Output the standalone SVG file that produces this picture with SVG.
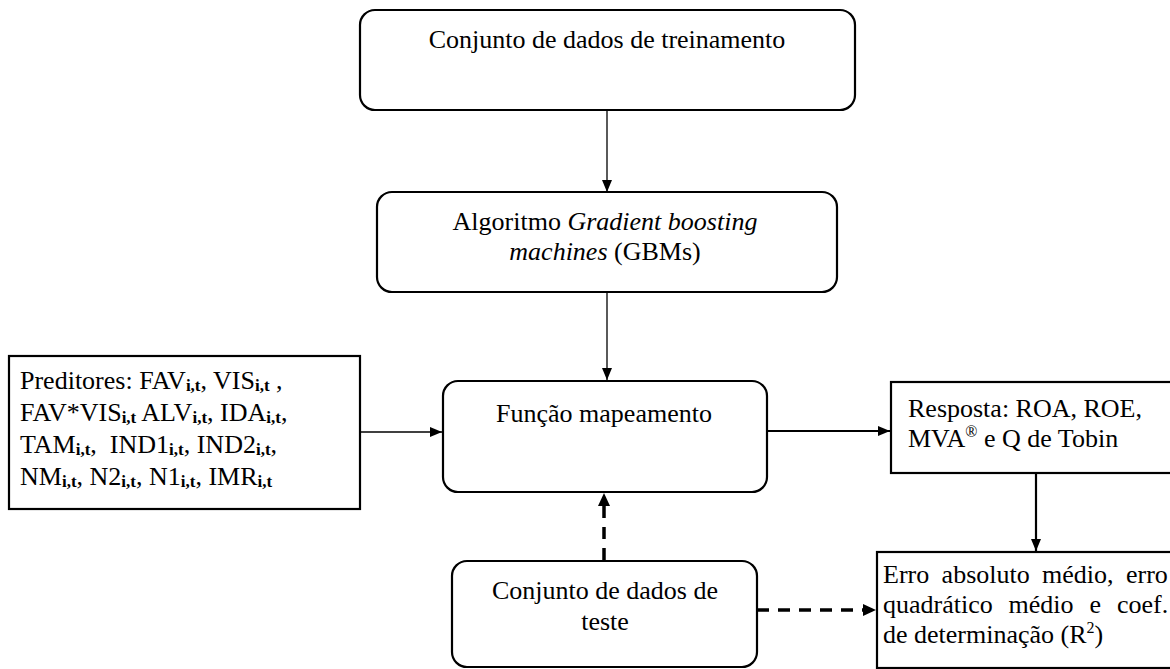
<svg xmlns="http://www.w3.org/2000/svg" width="1170" height="669" viewBox="0 0 1170 669">
<defs>
<style>
.box{fill:#fff;stroke:#000;stroke-width:2.2}
.t{font-family:"Liberation Serif","Times New Roman",serif;font-size:26px;fill:#000;white-space:pre}
.c{text-anchor:middle}
.s{font-size:17px;font-weight:bold}
.thin{stroke:#000;stroke-width:1.3;fill:none}
.thick{stroke:#000;stroke-width:2.2;fill:none}
.dash{stroke:#000;stroke-width:3.5;fill:none;stroke-dasharray:12 9}
</style>
<marker id="ah" viewBox="0 0 12 10" refX="12" refY="5" markerWidth="12" markerHeight="10" markerUnits="userSpaceOnUse" orient="auto">
<path d="M0,0 L12,5 L0,10 z" fill="#000"/>
</marker>
</defs>
<rect width="1170" height="669" fill="#fff"/>
<g id="connectors">
<line class="thin" x1="607" y1="110" x2="607" y2="192" marker-end="url(#ah)"/>
<line class="thin" x1="607" y1="292" x2="607" y2="380" marker-end="url(#ah)"/>
<line class="thin" x1="360" y1="432" x2="442" y2="432" marker-end="url(#ah)"/>
<line class="thick" x1="767" y1="431" x2="890" y2="431" marker-end="url(#ah)"/>
<line class="thick" x1="1036" y1="473" x2="1036" y2="551" marker-end="url(#ah)"/>
<line class="dash" x1="604" y1="560" x2="604" y2="505"/>
<path d="M598,506 L610,506 L604,493 z" fill="#000"/>
<line class="dash" x1="757" y1="610" x2="863" y2="610"/>
<path d="M863,604 L863,616 L876,610 z" fill="#000"/>
</g>
<g id="n-treino">
<rect class="box" x="360" y="10" width="495" height="100" rx="15"/>
<text class="t c" x="607" y="48">Conjunto de dados de treinamento</text>
</g>
<g id="n-gbm">
<rect class="box" x="377" y="192" width="460" height="100" rx="15"/>
<text class="t c" x="605" y="230">Algoritmo <tspan font-style="italic">Gradient boosting</tspan></text>
<text class="t c" x="605" y="260"><tspan font-style="italic">machines</tspan> (GBMs)</text>
</g>
<g id="n-funcao">
<rect class="box" x="443" y="381" width="324" height="111" rx="15"/>
<text class="t c" x="604" y="422">Função mapeamento</text>
</g>
<g id="n-preditores">
<rect class="box" x="9" y="356" width="351" height="153"/>
<text class="t" x="20" y="389">Preditores: FAV<tspan class="s" dy="2">i,t</tspan><tspan dy="-2">, VIS</tspan><tspan class="s" dy="2">i,t</tspan><tspan dy="-2"> ,</tspan></text>
<text class="t" x="20" y="421">FAV*VIS<tspan class="s" dy="2">i,t</tspan><tspan dy="-2"> ALV</tspan><tspan class="s" dy="2">i,t</tspan><tspan dy="-2">, IDA</tspan><tspan class="s" dy="2">i,t</tspan><tspan dy="-2">,</tspan></text>
<text class="t" x="20" y="453">TAM<tspan class="s" dy="2">i,t</tspan><tspan dy="-2">,  IND1</tspan><tspan class="s" dy="2">i,t</tspan><tspan dy="-2">, IND2</tspan><tspan class="s" dy="2">i,t</tspan><tspan dy="-2">,</tspan></text>
<text class="t" x="20" y="485">NM<tspan class="s" dy="2">i,t</tspan><tspan dy="-2">, N2</tspan><tspan class="s" dy="2">i,t</tspan><tspan dy="-2">, N1</tspan><tspan class="s" dy="2">i,t</tspan><tspan dy="-2">, IMR</tspan><tspan class="s" dy="2">i,t</tspan></text>
</g>
<g id="n-resposta">
<rect class="box" x="891" y="382" width="300" height="91"/>
<text class="t" x="908" y="417">Resposta: ROA, ROE,</text>
<text class="t" x="908" y="447">MVA<tspan font-size="16" dy="-10">®</tspan><tspan dy="10"> e Q de Tobin</tspan></text>
</g>
<g id="n-teste">
<rect class="box" x="452" y="561" width="305" height="106" rx="15"/>
<text class="t c" x="605" y="599">Conjunto de dados de</text>
<text class="t c" x="605" y="630">teste</text>
</g>
<g id="n-erro">
<rect class="box" x="877" y="552" width="310" height="116"/>
<text class="t" y="583"><tspan x="883">Erro</tspan><tspan x="941.6">absoluto</tspan><tspan x="1042">médio,</tspan><tspan x="1126">erro</tspan></text>
<text class="t" y="613"><tspan x="883">quadrático</tspan><tspan x="1008.6">médio</tspan><tspan x="1089.5">e</tspan><tspan x="1117">coef.</tspan></text>
<text class="t" x="883" y="643">de determinação (R<tspan font-size="16" dy="-10">2</tspan><tspan dy="10">)</tspan></text>
</g>
</svg>
